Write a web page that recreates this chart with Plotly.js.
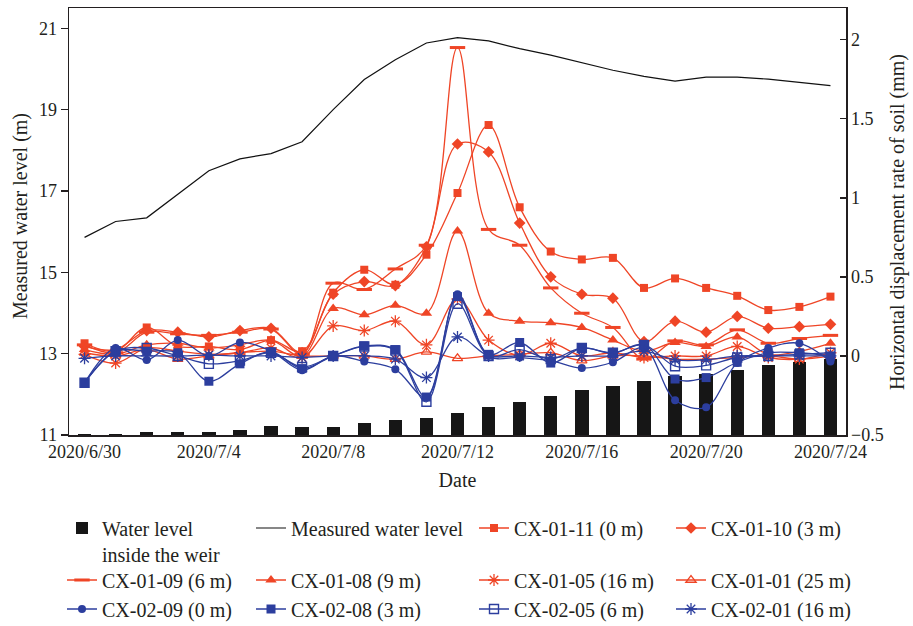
<!DOCTYPE html>
<html><head><meta charset="utf-8">
<script src="https://cdn.plot.ly/plotly-3.0.1.min.js"></script>
<style>html,body{margin:0;padding:0;background:#fff}</style>
</head><body><div id="chart" style="width:913px;height:626px"></div>
<script>
const dates = ['2020-06-30','2020-07-01','2020-07-02','2020-07-03','2020-07-04','2020-07-05','2020-07-06','2020-07-07','2020-07-08','2020-07-09','2020-07-10','2020-07-11','2020-07-12','2020-07-13','2020-07-14','2020-07-15','2020-07-16','2020-07-17','2020-07-18','2020-07-19','2020-07-20','2020-07-21','2020-07-22','2020-07-23','2020-07-24'];
const tickDates = ['2020-06-30','2020-07-04','2020-07-08','2020-07-12','2020-07-16','2020-07-20','2020-07-24'];
const tickLabels = ['2020/6/30','2020/7/4','2020/7/8','2020/7/12','2020/7/16','2020/7/20','2020/7/24'];
const leftTitle = 'Measured water level (m)';
const rightTitle = 'Horizontal displacement rate of soil (mm)';

// Water levels (m), left axis
const weirLevel = [11.03,11.03,11.08,11.08,11.08,11.13,11.21,11.2,11.2,11.3,11.37,11.42,11.55,11.69,11.81,11.96,12.1,12.21,12.33,12.45,12.5,12.6,12.72,12.8,12.88];
const measuredLevel = [15.86,16.25,16.34,16.91,17.5,17.79,17.92,18.21,19.0,19.74,20.23,20.64,20.77,20.69,20.5,20.34,20.15,19.97,19.82,19.7,19.8,19.8,19.75,19.67,19.59];

// Horizontal displacement rate of soil (mm), right axis
const cx0111 = [0.08,0.03,0.18,0.06,0.06,0.04,0.10,0.03,0.40,0.545,0.45,0.64,1.03,1.46,0.94,0.66,0.61,0.62,0.43,0.49,0.43,0.38,0.29,0.31,0.375];
const cx0110 = [0.06,0.04,0.16,0.15,0.12,0.16,0.175,0.02,0.39,0.47,0.445,0.69,1.34,1.29,0.84,0.50,0.39,0.365,0.09,0.22,0.15,0.25,0.175,0.185,0.20];
const cx0109 = [0.07,0.02,0.15,0.14,0.13,0.15,0.17,0.01,0.46,0.42,0.55,0.70,1.95,0.80,0.70,0.43,0.27,0.18,-0.02,0.095,0.07,0.165,0.08,0.11,0.13];
const cx0108 = [0.04,0.01,0.07,0.08,0.05,0.07,0.10,0.0,0.30,0.26,0.32,0.27,0.79,0.27,0.22,0.21,0.18,0.10,0.03,0.085,0.06,0.12,0.01,0.03,0.08];
const cx0105 = [0.01,-0.045,0.05,0.03,0.01,0.02,0.05,-0.01,0.19,0.16,0.22,0.07,0.36,0.10,0.005,0.08,0.0,0.02,-0.01,0.0,0.0,0.06,-0.01,-0.02,0.02];
const cx0101 = [0.02,0.0,0.04,-0.02,0.0,0.02,0.03,0.0,0.0,0.0,-0.02,0.025,-0.015,0.0,0.01,0.02,-0.03,0.0,0.0,-0.02,-0.02,-0.01,0.0,-0.02,0.0];
const cx0209 = [-0.17,0.05,-0.025,0.10,0.0,0.085,0.03,-0.09,0.0,-0.036,-0.085,-0.26,0.39,0.0,-0.01,-0.03,-0.077,-0.04,0.05,-0.28,-0.325,-0.045,0.05,0.08,-0.035];
const cx0208 = [-0.17,0.03,0.03,0.02,-0.16,-0.05,0.025,-0.08,0.0,0.063,0.04,-0.26,0.375,0.01,0.085,-0.045,0.05,0.017,0.07,-0.146,-0.137,-0.04,0.02,0.02,0.0];
const cx0205 = [-0.17,0.03,0.05,0.0,-0.05,-0.03,0.02,-0.07,0.0,0.06,0.035,-0.29,0.33,0.0,0.04,-0.02,0.05,0.02,0.07,-0.065,-0.06,-0.01,0.0,0.01,0.02];
const cx0201 = [-0.015,0.0,0.0,0.0,0.005,0.0,0.0,-0.01,0.0,0.0,-0.02,-0.137,0.12,0.0,0.0,-0.01,0.0,0.0,0.03,-0.025,-0.025,0.0,0.0,0.0,0.0];

const RED = '#EF4526';
const BLUE = '#2C3E9E';
const INK = '#231F20';
const FONT = 'Liberation Serif, Times New Roman, serif';

function mk(symbol, color, size, lw) {
  return {symbol: symbol, color: color, size: size, line: {color: color, width: lw}};
}

const seriesDefs = [
  {name: 'CX-01-11 (0 m)', y: cx0111, color: RED, marker: mk('square', RED, 8, 0)},
  {name: 'CX-01-10 (3 m)', y: cx0110, color: RED, marker: mk('diamond', RED, 9, 0)},
  {name: 'CX-01-09 (6 m)', y: cx0109, color: RED, marker: mk('line-ew', RED, 11, 3)},
  {name: 'CX-01-08 (9 m)', y: cx0108, color: RED, marker: mk('triangle-up', RED, 10, 0)},
  {name: 'CX-01-05 (16 m)', y: cx0105, color: RED, marker: mk('asterisk-open', RED, 10, 1.3)},
  {name: 'CX-01-01 (25 m)', y: cx0101, color: RED, marker: mk('triangle-up-open', RED, 9, 1.3)},
  {name: 'CX-02-09 (0 m)', y: cx0209, color: BLUE, marker: mk('circle', BLUE, 8, 0)},
  {name: 'CX-02-08 (3 m)', y: cx0208, color: BLUE, marker: mk('square', BLUE, 9, 0)},
  {name: 'CX-02-05 (6 m)', y: cx0205, color: BLUE, marker: mk('square-open', BLUE, 9, 1.4)},
  {name: 'CX-02-01 (16 m)', y: cx0201, color: BLUE, marker: mk('asterisk-open', BLUE, 10, 1.3)}
];

const traces = [
  {type: 'bar', x: dates, y: weirLevel, name: 'Water level<br>inside the weir', yaxis: 'y',
   width: 0.43 * 86400000, marker: {color: '#161616', line: {width: 0}}},
  {type: 'scatter', mode: 'lines', x: dates, y: measuredLevel, name: 'Measured water level', yaxis: 'y',
   line: {color: '#111', width: 1.2}}
];
seriesDefs.forEach(s => traces.push({
  type: 'scatter', mode: 'lines+markers', x: dates, y: s.y, name: s.name, yaxis: 'y2',
  line: {color: s.color, width: 1.3, shape: 'spline', smoothing: 1},
  marker: s.marker
}));

// legend grid: 4 columns x 3 rows, one legend box per entry
const colText = [102, 291, 514, 711];
const rowCenter = [528, 580, 609];
const layout = {
  width: 913, height: 626,
  margin: {l: 69, r: 67, t: 8, b: 191, autoexpand: false},
  paper_bgcolor: '#fff', plot_bgcolor: '#fff',
  font: {family: FONT, size: 18, color: INK},
  showlegend: true,
  bargap: 0,
  xaxis: {
    type: 'date', range: ['2020-06-29 12:00', '2020-07-24 12:00'], automargin: true,
    tickvals: tickDates, ticktext: tickLabels, ticks: '',
    showline: true, mirror: true, linecolor: INK, linewidth: 1.5,
    showgrid: false, zeroline: false,
    tickfont: {family: FONT, size: 18, color: INK},
    title: {text: 'Date', font: {family: FONT, size: 20, color: INK}, standoff: 12}
  },
  yaxis: {
    range: [11, 21.5], tick0: 11, dtick: 2, ticks: 'outside', ticklen: 7, tickwidth: 1.5, tickcolor: INK,
    showline: true, linecolor: INK, linewidth: 1.5, showgrid: false, zeroline: false,
    tickfont: {family: FONT, size: 18, color: INK}
  },
  yaxis2: {
    overlaying: 'y', side: 'right',
    range: [-0.5, 2.2], tick0: -0.5, dtick: 0.5, ticks: 'inside', ticklen: 6, tickwidth: 1.5, tickcolor: INK,
    showline: true, linecolor: INK, linewidth: 1.5, showgrid: false, zeroline: false,
    tickfont: {family: FONT, size: 18, color: INK}
  },
  annotations: [
    {text: leftTitle, xref: 'paper', yref: 'paper', x: (20 - 69) / 777, y: (435 - 216) / 427,
     textangle: -90, showarrow: false, xanchor: 'center', yanchor: 'middle',
     font: {family: FONT, size: 20, color: INK}},
    {text: rightTitle, xref: 'paper', yref: 'paper', x: (897 - 69) / 777, y: (435 - 222) / 427,
     textangle: -90, showarrow: false, xanchor: 'center', yanchor: 'middle',
     font: {family: FONT, size: 20, color: INK}}
  ]
};
traces.forEach((t, i) => {
  const key = i === 0 ? 'legend' : 'legend' + (i + 1);
  t.legend = key;
  const col = i % 4, row = Math.floor(i / 4);
  layout[key] = {
    xref: 'container', yref: 'container',
    x: (colText[col] - 40) / 913, y: 1 - (rowCenter[row] - 19.5) / 626,
    xanchor: 'left', yanchor: 'top', valign: 'top',
    bgcolor: 'rgba(0,0,0,0)', borderwidth: 0,
    font: {family: FONT, size: 20, color: INK}
  };
});

Plotly.newPlot('chart', traces, layout, {displayModeBar: false, staticPlot: true});
</script>
</body></html>
